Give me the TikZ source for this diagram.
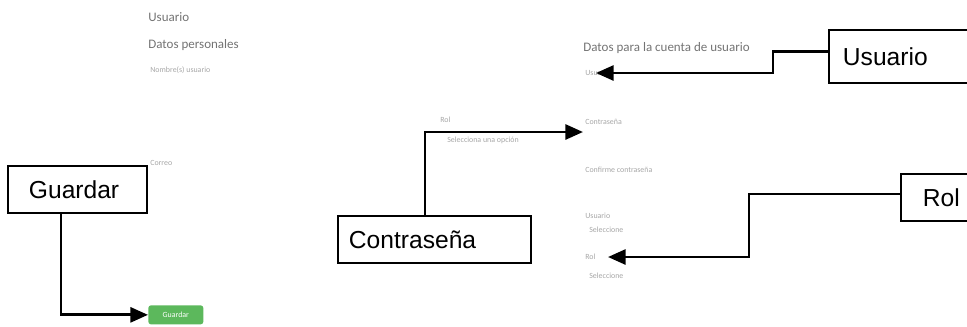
\documentclass[tikz,border=0pt]{standalone}
\usepackage{fontspec}
\setmainfont{Liberation Sans}
\newfontfamily\uifont{Carlito}
\usetikzlibrary{positioning,arrows.meta}

\begin{document}
\begin{tikzpicture}[x=0.02cm,y=-0.02cm,
    callout/.style={draw, line width=1.1pt, anchor=north west, align=left, inner ysep=0pt, font=\fontsize{14}{16}\selectfont},
    conn/.style={line width=1.6pt, -{Triangle[length=10pt,width=8.5pt]}},
    head/.style={anchor=west, inner sep=0pt, text=black!55, font=\uifont\fontsize{7.4}{9}\selectfont},
    tiny/.style={anchor=west, inner sep=0pt, text=black!35, font=\uifont\fontsize{4.5}{5}\selectfont}]
    \path[use as bounding box, clip] (0,0) rectangle (967,326);

    % screenshot of the form
    \node[head] (usrtitle) at (148,17) {Usuario};
    \node[head] (datper) at (148,45) {Datos personales};
    \node[tiny] (nombre) at (150,70) {Nombre(s) usuario};
    \node[tiny] (correo) at (150,163) {Correo};
    \node[tiny] (rolsel) at (440,120) {Rol};
    \node[tiny] (opcion) at (447,140) {Selecciona una opción};
    \node[head] (datcta) at (583,48) {Datos para la cuenta de usuario};
    \node[tiny] (usrlbl) at (585,73) {Usuario};
    \node[tiny] (passlbl) at (585,122) {Contraseña};
    \node[tiny] (conflbl) at (585,170) {Confirme contraseña};
    \node[tiny] (usrlbl2) at (585,216) {Usuario};
    \node[tiny] (usrsel) at (589,230) {Seleccione};
    \node[tiny] (rollbl) at (585,257) {Rol};
    \node[tiny] (rolsel2) at (589,276) {Seleccione};
    \node[anchor=north west, fill={rgb,255:red,92;green,184;blue,92}, rounded corners=1.5pt,
          minimum width=1.1cm, minimum height=0.38cm, inner sep=0pt, text=white,
          font=\uifont\fontsize{4.5}{5}\selectfont] (btn) at (148,305) {Guardar};

    % callouts
    \node[callout, text width=1.94cm, inner xsep=0.42cm, minimum height=0.94cm] (guardar) at (7,165) {Guardar};
    \node[callout, text width=3.42cm, inner xsep=0.22cm, minimum height=0.94cm] (contra) at (337,215) {Contraseña};
    \node[callout, text width=3cm, inner xsep=0.28cm, minimum height=1.06cm] (usuario) at (828,29) {Usuario};
    \node[callout, text width=3cm, inner xsep=0.44cm, minimum height=0.94cm] (rol) at (900,173) {Rol};

    \coordinate (passtip) at (583,132);
    \coordinate (usrtip) at (596,73);
    \coordinate (roltip) at (608,257);

    \draw[conn] ([xshift=-0.33cm]guardar.south) |- (btn.west);
    \draw[conn] ([xshift=-0.19cm]contra.north) |- (passtip);
    \draw[conn] ([yshift=0.1cm]usuario.west) -- ++(-55,0) |- (usrtip);
    \draw[conn] ([yshift=0.07cm]rol.west) -- ++(-151,0) |- (roltip);
\end{tikzpicture}
\end{document}
